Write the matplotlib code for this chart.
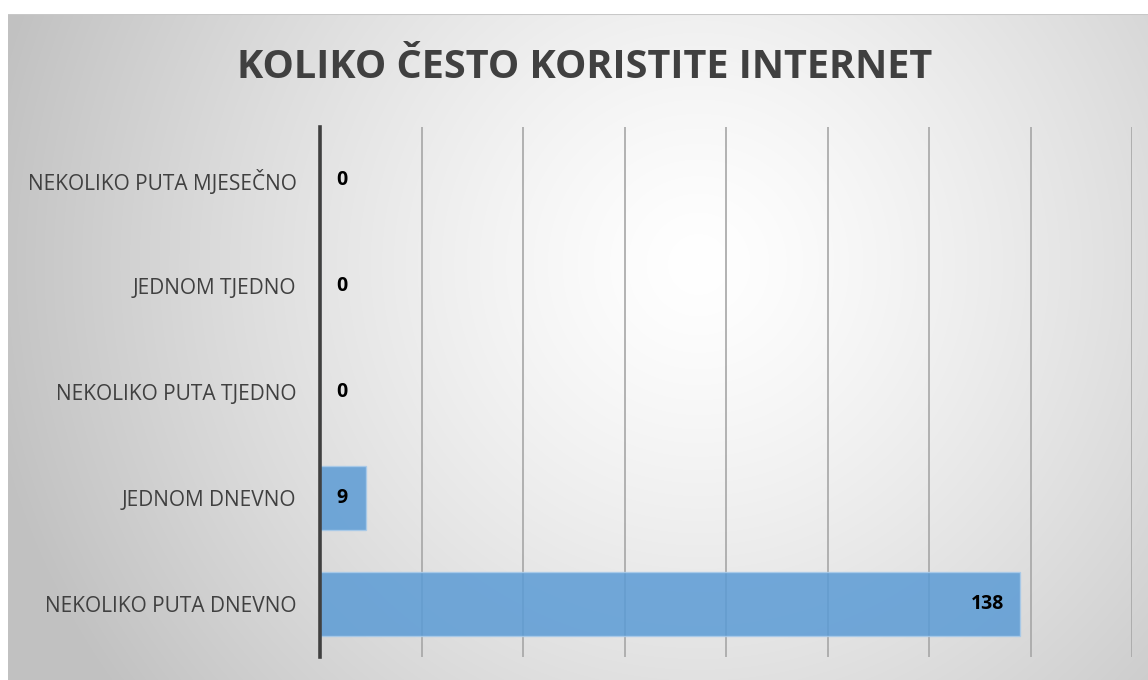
import numpy as np
import matplotlib
matplotlib.use("Agg")
import matplotlib.pyplot as plt

categories = ["NEKOLIKO PUTA DNEVNO", "JEDNOM DNEVNO", "NEKOLIKO PUTA TJEDNO",
              "JEDNOM TJEDNO", "NEKOLIKO PUTA MJESEČNO"]
values = [138, 9, 0, 0, 0]
title = "KOLIKO ČESTO KORISTITE INTERNET"

W, H = 1148, 680
fig = plt.figure(figsize=(W / 100, H / 100), dpi=100)
fig.patch.set_facecolor("white")

# radial gradient background panel
bx0, by_top = 8, 14
bg = fig.add_axes([bx0 / W, 0, 1 - bx0 / W, (H - by_top) / H])
bg.set_axis_off()
gw, gh = W - bx0, H - by_top
yy, xx = np.mgrid[0:gh, 0:gw]
cx, cy = 690, 250
r = np.sqrt((xx - cx) ** 2 + ((yy - cy) * 1.0) ** 2)
t = np.clip(r / 720.0, 0, 1)
lum = 1.0 - 0.24 * t ** 1.3
img = np.dstack([lum, lum, lum])
bg.imshow(img, aspect="auto", extent=[0, 1, 0, 1], origin="upper")
bg.set_xlim(0, 1); bg.set_ylim(0, 1)
bg.plot([0, 1], [1, 1], color="#c8c8c8", lw=1.5, transform=bg.transAxes)

# main axes
ax_l, ax_r, ax_t, ax_b = 320, 1132, 127, 657
ax = fig.add_axes([ax_l / W, 1 - ax_b / H, (ax_r - ax_l) / W, (ax_b - ax_t) / H])
ax.patch.set_alpha(0)

y = np.arange(len(categories))
bars = ax.barh(y, values, height=0.61, color="#5b9bd5", alpha=0.85,
               edgecolor="#a9cbea", linewidth=1.0, zorder=3)
ax.set_xlim(0, 160)
ax.set_ylim(-0.5, len(categories) - 0.5)
ax.set_xticks(np.arange(20, 161, 20))
ax.xaxis.grid(True, color="#a6a6a6", lw=1.2, zorder=4)
ax.set_axisbelow(False)
ax.tick_params(axis="x", length=0, labelbottom=False)
ax.tick_params(axis="y", length=0, pad=17)
ax.set_yticks(y)
ax.set_yticklabels(categories, fontsize=15, color="#404040", family="Open Sans")
for s in ["top", "right", "bottom"]:
    ax.spines[s].set_visible(False)
ax.spines["left"].set_color("#404040")
ax.spines["left"].set_linewidth(2.6)
ax.spines["left"].set_zorder(6)

for yi, v in zip(y, values):
    if v >= 20:
        ax.annotate(str(v), (v, yi), xytext=(-12, 0), textcoords="offset points",
                    ha="right", va="center", fontsize=14, fontweight="bold",
                    color="black", family="Open Sans", zorder=7)
    else:
        ax.annotate(str(v), (0, yi), xytext=(16, 0), textcoords="offset points",
                    ha="center", va="center", fontsize=14, fontweight="bold",
                    color="black", family="Open Sans", zorder=7)

fig.text(585 / W, 1 - 67 / H, title, ha="center", va="center", fontsize=28.5,
         fontweight="bold", color="#404040", family="Open Sans")

fig.savefig("out.png", dpi=100)
